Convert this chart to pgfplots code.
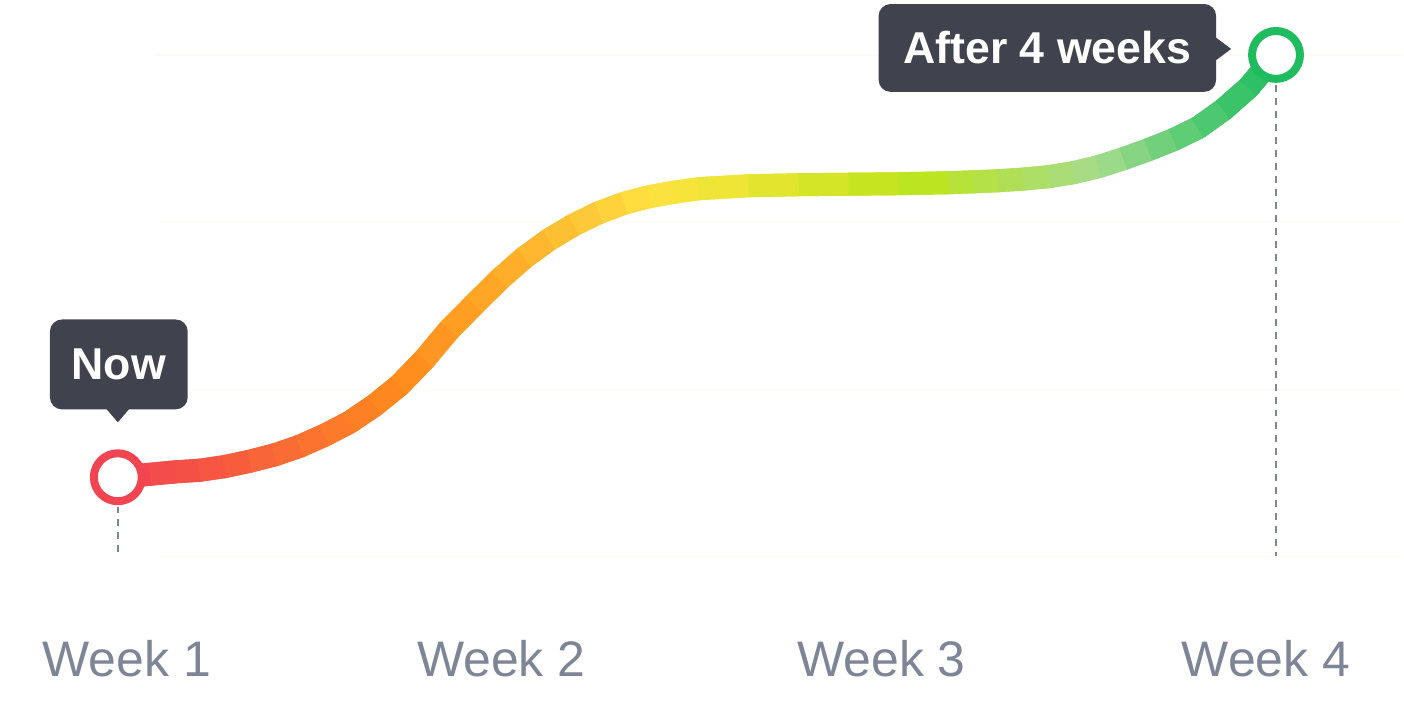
\documentclass[border=0pt]{standalone}
\usepackage{pgfplots}
\pgfplotsset{compat=1.18}
\usepackage{fontspec}
\setmainfont{Liberation Sans}

\definecolor{tipbg}{RGB}{64,67,77}
\definecolor{weekgray}{RGB}{125,133,150}
\definecolor{dashgray}{RGB}{125,135,145}
\definecolor{startred}{RGB}{243,68,82}
\definecolor{endgreen}{RGB}{30,188,95}
\definecolor{faint}{RGB}{252,252,243}

% colour along the walk, positions in px from week 1
\pgfplotsset{colormap={walk}{
  rgb255(0pt)=(243,68,82)
  rgb255(82pt)=(245,82,68)
  rgb255(182pt)=(250,112,50)
  rgb255(282pt)=(255,138,28)
  rgb255(382pt)=(255,170,40)
  rgb255(482pt)=(254,205,58)
  rgb255(532pt)=(255,226,64)
  rgb255(632pt)=(232,230,50)
  rgb255(732pt)=(205,228,35)
  rgb255(802pt)=(188,228,30)
  rgb255(882pt)=(178,224,80)
  rgb255(982pt)=(165,220,140)
  rgb255(1062pt)=(100,205,120)
  rgb255(1160pt)=(30,188,95)
}}

\pgfplotstableread{
week  val
1.000 15.74
1.083 16.33
1.147 16.80
1.212 17.13
1.276 17.85
1.341 18.92
1.406 20.20
1.471 21.91
1.535 24.10
1.600 26.69
1.665 30.08
1.729 34.06
1.794 39.24
1.859 45.22
1.923 50.20
1.988 55.18
2.053 59.56
2.117 63.15
2.182 66.14
2.246 68.53
2.311 70.40
2.376 71.71
2.440 72.60
2.505 73.31
2.634 73.90
2.764 74.10
2.893 74.20
3.022 74.30
3.152 74.50
3.216 74.68
3.281 74.90
3.345 75.22
3.410 75.70
3.475 76.50
3.540 77.69
3.604 79.28
3.669 81.08
3.734 83.07
3.798 85.46
3.863 89.04
3.928 93.43
3.965 96.80
4.000 100.00
}\walk

\begin{document}
\begin{tikzpicture}
\begin{axis}[
width=1404pt,
height=713pt,
scale only axis,
hide axis,
clip=false,
xmin=0.6948, xmax=4.3259,
ymin=-31.08, ymax=110.96,
colormap name=walk,
point meta min=1,
point meta max=4,
]
\path (rel axis cs:0,0) rectangle (rel axis cs:1,1);

% faint grid
\foreach \g in {0,33.3,66.7,100}{
  \edef\tmp{\noexpand\draw[faint, line width=1.2pt] (axis cs:1.1,\g) -- (axis cs:4.33,\g);}\tmp
}

% guides
\draw[dashgray, line width=2pt, dash pattern=on 7pt off 6pt] (axis cs:1,9.9) -- (axis cs:1,0);
\draw[dashgray, line width=2pt, dash pattern=on 7pt off 6pt] (axis cs:4,94) -- (axis cs:4,0);

% the walk: round caps fill the bends, butt caps on top hide the seams
\addplot[mesh, point meta=x, line width=23pt, line cap=round]
  table[x=week, y=val] {\walk};
\addplot[mesh, point meta=x, line width=23pt, line cap=butt]
  table[x=week, y=val] {\walk};

% end points
\addplot[only marks, mark=*, mark size=24pt,
  mark options={fill=white, draw=startred, line width=8pt}]
  coordinates {(1,15.74)};
\addplot[only marks, mark=*, mark size=24pt,
  mark options={fill=white, draw=endgreen, line width=8pt}]
  coordinates {(4,100)};

% callouts
\node[fill=tipbg, rounded corners=12pt, minimum width=138pt, minimum height=90pt,
  inner sep=0pt, text=white, font=\bfseries\fontsize{44.7pt}{50pt}\selectfont]
  at ([shift={(1pt,113pt)}]axis cs:1,15.74) {Now};
\fill[tipbg] ([shift={(-12pt,69pt)}]axis cs:1,15.74) -- ([shift={(0pt,55pt)}]axis cs:1,15.74)
  -- ([shift={(12pt,69pt)}]axis cs:1,15.74) -- cycle;

\node[fill=tipbg, rounded corners=12pt, minimum width=338pt, minimum height=88pt,
  inner sep=0pt, text=white, font=\bfseries\fontsize{44.7pt}{50pt}\selectfont]
  at ([shift={(-229pt,7pt)}]axis cs:4,100) {After 4 weeks};
\fill[tipbg] ([shift={(-61pt,18pt)}]axis cs:4,100) -- ([shift={(-45pt,6pt)}]axis cs:4,100)
  -- ([shift={(-61pt,-6pt)}]axis cs:4,100) -- cycle;

% week labels
\foreach \wx/\wl in {1.023/Week 1, 1.993/Week 2, 2.978/Week 3, 3.974/Week 4}{
  \edef\tmp{\noexpand\node[anchor=base, text=weekgray, font=\noexpand\fontsize{50pt}{56pt}\noexpand\selectfont]
    at (axis cs:\wx,-24.1) {\wl};}\tmp
}
\end{axis}
\end{tikzpicture}
\end{document}
